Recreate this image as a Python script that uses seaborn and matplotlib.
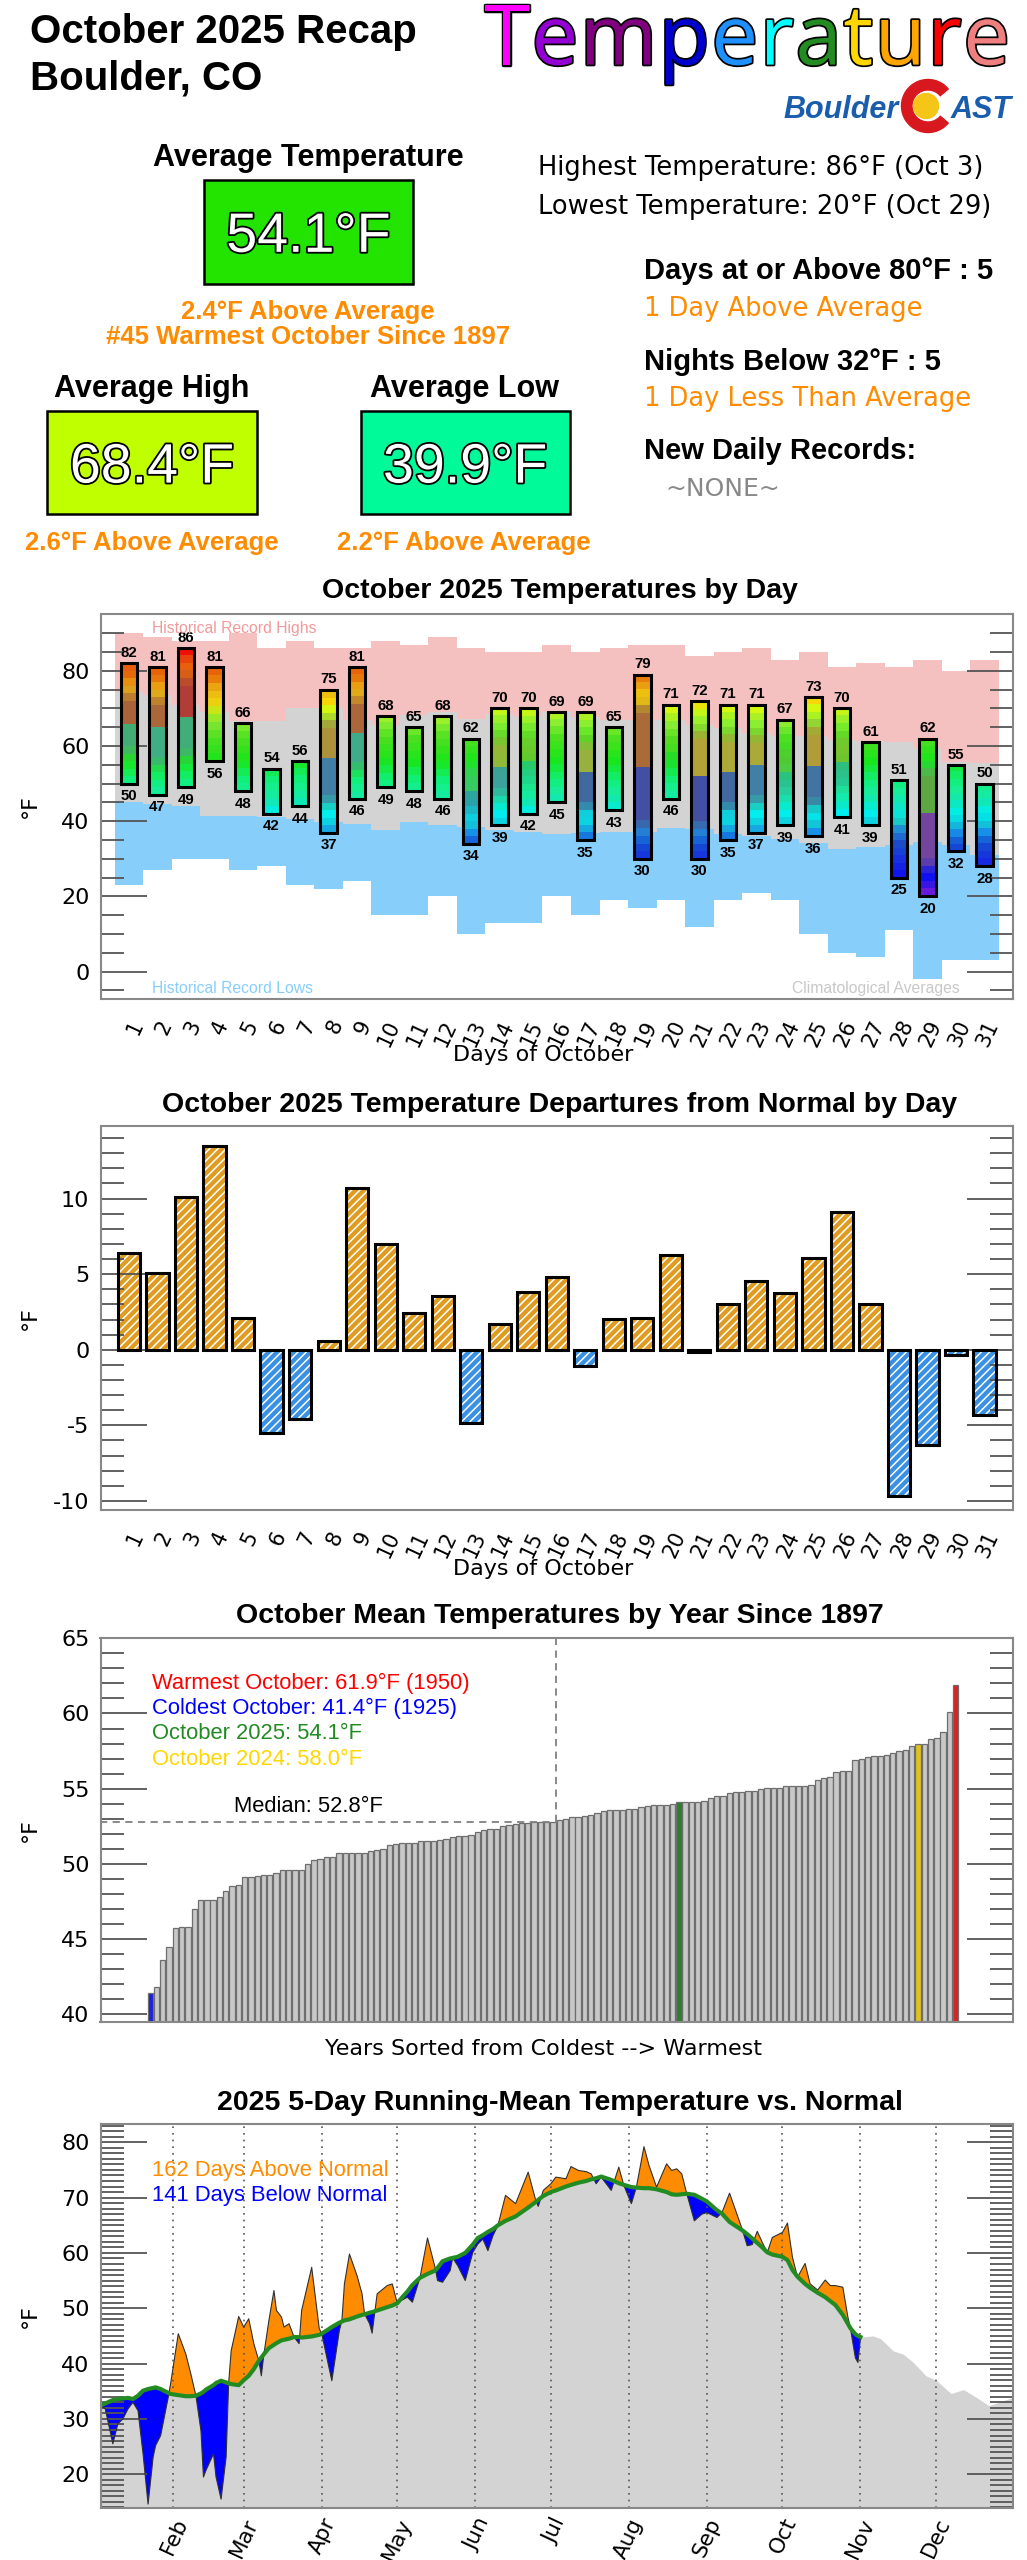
import numpy as np
import pandas as pd
import matplotlib
matplotlib.use("Agg")
import matplotlib.pyplot as plt
import matplotlib.patheffects as pe
from matplotlib.patches import Rectangle, Wedge, Circle
from matplotlib.colors import LinearSegmentedColormap, to_rgb
from matplotlib import font_manager
from matplotlib.ft2font import FT2Font
import seaborn as sns

# ---------------- data ----------------
days = list(range(1, 32))
daily_high = [82, 81, 86, 81, 66, 54, 56, 75, 81, 68, 65, 68, 62, 70, 70, 69,
              69, 65, 79, 71, 72, 71, 71, 67, 73, 70, 61, 51, 62, 55, 50]
daily_low = [50, 47, 49, 56, 48, 42, 44, 37, 46, 49, 48, 46, 34, 39, 42, 45,
             35, 43, 30, 46, 30, 35, 37, 39, 36, 41, 39, 25, 20, 32, 28]
record_high = [90, 89, 88, 88, 90, 86, 88, 86, 86, 88, 87, 89, 86, 85, 85, 87,
               85, 86, 87, 87, 84, 85, 86, 83, 85, 81, 82, 81, 83, 80, 83]
normal_high = [74.4, 73.6, 71.0, 69.1, 66.6, 66.6, 70.1, 70.0, 67.0, 65.6, 68.2,
               69.0, 67.2, 68.5, 67.8, 69.0, 67.8, 67.0, 67.0, 67.0, 65.6, 64.7,
               63.4, 62.7, 62.7, 61.6, 61.3, 61.0, 59.4, 55.8, 55.4]
normal_low = [45.2, 44.5, 44.1, 41.4, 41.4, 41.2, 40.6, 39.8, 39.2, 37.6, 39.8,
              39.0, 38.5, 37.6, 37.2, 36.7, 37.0, 37.2, 37.2, 38.2, 37.9, 36.7,
              36.1, 35.4, 34.3, 32.7, 33.2, 33.6, 34.5, 33.6, 31.1]
record_low = [23, 27, 30, 30, 27, 28, 23, 22, 24, 15, 15, 20, 10, 13, 13, 20,
              15, 19, 17, 19, 12, 19, 21, 19, 10, 5, 4, 11, -2, 3, 3]

departures = [6.4, 5.1, 10.1, 13.5, 2.1, -5.5, -4.6, 0.55, 10.7, 7.0, 2.4, 3.55,
              -4.85, 1.7, 3.85, 4.8, -1.05, 2.05, 2.1, 6.25, -0.15, 3.0, 4.55,
              3.75, 6.1, 9.1, 3.0, -9.65, -6.3, -0.35, -4.3]

# October means 1897-2025, sorted coldest -> warmest
october_means_sorted = [
    41.4, 41.8, 43.6, 44.5, 45.75, 45.8, 45.8, 47.0, 47.6, 47.6,
    47.6, 47.8, 48.2, 48.5, 48.6, 49.1, 49.1, 49.2, 49.25, 49.25,
    49.4, 49.6, 49.6, 49.6, 49.6, 50.0, 50.25, 50.35, 50.45, 50.45,
    50.7, 50.7, 50.7, 50.7, 50.7, 50.85, 50.95, 51.0, 51.25, 51.35,
    51.4, 51.4, 51.4, 51.5, 51.55, 51.55, 51.6, 51.65, 51.8, 51.85,
    51.85, 51.9, 52.15, 52.25, 52.3, 52.3, 52.5, 52.6, 52.65, 52.7,
    52.7, 52.75, 52.75, 52.8, 52.8, 52.9, 53.0, 53.1, 53.1, 53.15,
    53.25, 53.35, 53.5, 53.55, 53.55, 53.6, 53.65, 53.65, 53.75, 53.85,
    53.9, 53.9, 53.9, 54.0, 54.1, 54.1, 54.1, 54.1, 54.15, 54.35,
    54.5, 54.5, 54.7, 54.75, 54.8, 54.85, 54.85, 55.0, 55.05, 55.05,
    55.05, 55.15, 55.15, 55.15, 55.15, 55.25, 55.55, 55.7, 55.75, 56.1,
    56.15, 56.2, 56.9, 56.95, 57.1, 57.2, 57.2, 57.25, 57.35, 57.5,
    57.6, 57.85, 58.0, 58.0, 58.3, 58.4, 58.75, 60.1, 61.9]
rank_2025 = 84
rank_2024 = 122

# 5-day running mean (day of year, 0 = Jan 1)
run_days = [2, 4, 7, 9, 11, 13, 15, 17, 19, 21, 23, 24, 26, 29, 30, 33, 36, 38, 40,
            42, 43, 44, 47, 48, 50, 52, 53, 54, 57, 59, 61, 63, 65, 66, 67, 69, 71,
            72, 74, 75, 77, 79, 81, 82, 86, 89, 90, 92, 94, 97, 98, 99, 101, 104,
            106, 107, 109, 110, 112, 116, 118, 120, 122, 124, 126, 129, 132, 135,
            136, 138, 141, 142, 144, 147, 150, 152, 154, 156, 158, 160, 163, 167,
            172, 175, 176, 178, 181, 183, 187, 189, 192, 195, 197, 199, 201, 205,
            208, 210, 213, 215, 218, 220, 223, 227, 229, 231, 233, 235, 238, 241,
            243, 247, 249, 252, 257, 259, 261, 263, 265, 267, 269, 273, 275, 277,
            279, 282, 284, 287, 290, 292, 294, 297, 299, 300, 302, 303, 304]
run_actual = [32.4, 31.8, 25.5, 29.1, 30.0, 31.8, 33.0, 31.5, 23.7, 14.6, 23.1, 25.2,
              27.0, 33.9, 36.5, 45.4, 41.7, 38.1, 34.2, 27.9, 19.5, 20.7, 23.7, 19.5,
              15.5, 23.1, 36.4, 42.3, 48.5, 46.6, 48.1, 43.6, 40.5, 37.8, 41.7, 47.8,
              53.2, 49.6, 48.4, 46.6, 47.2, 44.8, 43.6, 49.6, 57.4, 46.3, 45.4, 41.1,
              36.9, 46.0, 47.8, 54.4, 59.8, 55.9, 52.6, 49.0, 47.2, 45.5, 52.6, 54.1,
              54.4, 50.9, 51.5, 52.0, 51.1, 55.5, 62.7, 57.4, 55.0, 54.7, 56.8, 59.1,
              57.7, 55.0, 60.1, 61.6, 62.5, 60.4, 63.1, 65.0, 70.4, 68.9, 74.6, 69.5,
              68.4, 71.3, 72.5, 73.7, 73.4, 75.6, 74.9, 74.7, 74.3, 72.5, 73.7, 71.3,
              75.5, 72.2, 68.9, 71.9, 79.2, 75.8, 71.9, 76.1, 74.9, 75.2, 74.3, 70.7,
              65.8, 67.0, 67.3, 66.4, 67.3, 70.8, 64.3, 61.3, 61.5, 63.9, 61.9, 60.1,
              62.8, 63.7, 65.4, 59.2, 55.6, 58.1, 54.4, 53.3, 55.1, 54.1, 54.1, 53.8,
              48.4, 46.4, 41.0, 40.2, 44.5]
run_normal = [32.4, 32.8, 33.4, 33.6, 33.7, 33.8, 33.6, 34.2, 35.1, 35.4, 35.6, 35.7,
              35.4, 34.7, 34.5, 34.3, 34.1, 34.1, 34.2, 34.6, 34.9, 35.3, 36.1, 36.5,
              36.9, 36.6, 36.4, 36.3, 36.1, 37.0, 37.8, 39.0, 40.5, 41.1, 41.7, 42.8,
              43.4, 43.7, 44.2, 44.3, 44.5, 44.8, 44.8, 44.7, 44.9, 45.2, 45.4, 46.0,
              46.6, 47.4, 47.6, 47.8, 48.0, 48.5, 48.8, 48.9, 49.2, 49.3, 49.6, 50.2,
              50.5, 50.9, 52.0, 53.0, 54.2, 55.5, 56.2, 56.8, 57.3, 58.5, 59.0, 59.1,
              59.3, 60.0, 61.5, 62.7, 63.2, 63.8, 64.3, 65.0, 65.8, 66.6, 68.2, 69.2,
              69.6, 70.3, 71.0, 71.3, 72.0, 72.3, 72.7, 73.0, 73.3, 73.5, 73.8, 73.2,
              72.6, 72.3, 71.9, 71.8, 71.7, 71.7, 71.5, 71.0, 70.6, 70.5, 70.6, 70.7,
              70.5, 69.8, 69.3, 67.7, 67.1, 65.6, 64.1, 63.4, 62.6, 61.8, 61.0, 60.1,
              59.7, 59.3, 58.7, 56.9, 55.7, 54.4, 53.7, 52.8, 52.0, 51.3, 50.6, 48.8,
              47.2, 46.4, 45.3, 45.0, 44.8]
rest_days = [309, 312, 317, 321, 325, 330, 334, 340, 345, 350, 355, 359, 364.5]
rest_normal = [45.0, 44.5, 42.3, 41.7, 40.2, 37.8, 37.0, 34.6, 35.3, 33.9, 32.4, 33.0, 33.9]

month_starts = [31, 59, 90, 120, 151, 181, 212, 243, 273, 304, 334]
month_names = ["Feb", "Mar", "Apr", "May", "Jun", "Jul", "Aug", "Sep", "Oct", "Nov", "Dec"]

# colour anchors for the daily bars (temperature -> colour)
temp_colors = [(15, "#8A10D0"), (20, "#7A1CD8"), (25, "#1010F0"), (30, "#1830E0"),
               (34, "#1450D0"), (37, "#1890E8"), (39, "#14C4D8"), (42, "#00F0F0"),
               (45, "#10E8B8"), (48, "#18EE98"), (51, "#10F078"), (56, "#1AE61A"),
               (62, "#4CE020"), (66, "#88EE33"), (70, "#D4F810"), (72, "#F8D808"),
               (75, "#ECB514"), (79, "#E86A0A"), (82, "#E85A10"), (85, "#F01008"),
               (90, "#FF0000")]

# ---------------- figure ----------------
W, H = 1027, 2560
plt.rcParams["axes.unicode_minus"] = False
plt.rcParams["hatch.linewidth"] = 1.1
plt.rcParams["font.family"] = ["DejaVu Sans"]
fig = plt.figure(figsize=(W / 100, H / 100), dpi=100)

BOLD = dict(family="Liberation Sans", weight="bold")
HELV = dict(family="Liberation Sans")


def px_text(x, y, s, **kw):
    return fig.text(x / W, 1 - y / H, s, **kw)


def panel(top, bottom):
    ax = fig.add_axes([100.5 / W, 1 - bottom / H, 912.5 / W, (bottom - top) / H])
    for s in ax.spines.values():
        s.set_color("#888888")
        s.set_linewidth(1.5)
    return ax


def y_ticks(ax, majors, minors):
    ax.set_yticks(majors)
    ax.set_yticks(minors, minor=True)
    ax.tick_params(axis="y", which="both", direction="in", left=True, right=True,
                   color="#555555", width=1.3)
    ax.tick_params(axis="y", which="major", length=33, labelsize=16, pad=8)
    ax.tick_params(axis="y", which="minor", length=16.5)


# ---- header ----
px_text(29.6, 43, "October 2025 Recap", fontsize=29, va="baseline", **BOLD)
px_text(29.6, 90, "Boulder, CO", fontsize=29, va="baseline", **BOLD)

word = "Temperature"
word_colors = ["#FF00FF", "#9400D3", "#800080", "#0000CD", "#1E90FF", "#00FFFF",
               "#228B22", "#FFD700", "#FFA500", "#FF0000", "#F08080"]
ft = FT2Font(font_manager.findfont(font_manager.FontProperties(family="Open Sans")))
ft.set_size(60, 100)
adv = [ft.load_char(ord(c)).linearHoriAdvance / 65536 for c in word]
gap = (526 - sum(adv)) / (len(word) - 1)
x = 484
for ch, col, a in zip(word, word_colors, adv):
    px_text(x, 64.6, ch, fontsize=60, family="Open Sans", color=col, va="baseline",
            path_effects=[pe.withStroke(linewidth=2.5, foreground="black")])
    x += a + gap

px_text(783, 118, "Boulder", fontsize=22, color="#1A5DAD", va="baseline",
        style="italic", **BOLD)
fig.add_artist(Wedge((9.28, (H - 106) / 100), 0.265, 40, 320, width=0.105,
                     color="#D7191F", transform=fig.dpi_scale_trans))
fig.add_artist(Circle((9.26, (H - 106) / 100), 0.125, color="#F5C518",
                      transform=fig.dpi_scale_trans))
px_text(951, 118, "AST", fontsize=22, color="#1A5DAD", va="baseline",
        style="italic", **BOLD)


def value_box(x0, y0, x1, y1, color, label):
    fig.add_artist(Rectangle((x0 / W, 1 - y1 / H), (x1 - x0) / W, (y1 - y0) / H,
                             transform=fig.transFigure, facecolor=color,
                             edgecolor="black", lw=1.8))
    px_text((x0 + x1) / 2, y0 + 0.695 * (y1 - y0), label, fontsize=40, color="white",
            ha="center", va="baseline", family="Liberation Sans",
            path_effects=[pe.withStroke(linewidth=2.6, foreground="black")])


orange = "#FF8C00"
px_text(308, 165.8, "Average Temperature", fontsize=22, ha="center", va="baseline", **BOLD)
value_box(204, 179.5, 413, 283.6, "#22E400", "54.1°F")
px_text(308, 318.7, "2.4°F Above Average", fontsize=18.5, color=orange, ha="center",
        va="baseline", **BOLD)
px_text(308, 343.5, "#45 Warmest October Since 1897", fontsize=18.5, color=orange,
        ha="center", va="baseline", **BOLD)

px_text(152, 396.6, "Average High", fontsize=22, ha="center", va="baseline", **BOLD)
value_box(47.4, 411, 256.7, 514, "#BFFF00", "68.4°F")
px_text(152, 550, "2.6°F Above Average", fontsize=18.5, color=orange, ha="center",
        va="baseline", **BOLD)
px_text(465, 396.6, "Average Low", fontsize=22, ha="center", va="baseline", **BOLD)
value_box(360.8, 411, 569.5, 514, "#00FA9A", "39.9°F")
px_text(464, 550, "2.2°F Above Average", fontsize=18.5, color=orange, ha="center",
        va="baseline", **BOLD)

px_text(538.5, 175.2, "Highest Temperature: 86°F (Oct 3)", fontsize=18.5, va="baseline")
px_text(538.5, 214, "Lowest Temperature: 20°F (Oct 29)", fontsize=18.5, va="baseline")
px_text(644, 279.3, "Days at or Above 80°F : 5", fontsize=21, va="baseline", **BOLD)
px_text(644, 315.9, "1 Day Above Average", fontsize=18.5, color=orange, va="baseline")
px_text(644, 369.7, "Nights Below 32°F : 5", fontsize=21, va="baseline", **BOLD)
px_text(644, 406.3, "1 Day Less Than Average", fontsize=18.5, color=orange, va="baseline")
px_text(644, 459.4, "New Daily Records:", fontsize=21, va="baseline", **BOLD)
px_text(665, 496, "~NONE~", fontsize=18, color="#888888", va="baseline")

# ---- panel 1: daily temperatures ----
ax1 = panel(613.7, 998.7)
edges = np.arange(0.5, 32, 1.0)
ax1.stairs(record_high, edges, baseline=normal_high, fill=True, color="#F5C0C0", lw=0)
ax1.stairs(normal_high, edges, baseline=normal_low, fill=True, color="#D3D3D3", lw=0)
ax1.stairs(normal_low, edges, baseline=record_low, fill=True, color="#87CEFA", lw=0)

temp_cmap = LinearSegmentedColormap.from_list(
    "temps", [((t - 15) / 75, c) for t, c in temp_colors])
mute = np.array(to_rgb("#6E6E66"))


def tcol(t):
    return np.array(temp_cmap((t - 15) / 75)[:3])


def bar_color(t, lo, hi):
    # the ends keep their own colour; the middle of long bars is a dulled
    # version of the nearer end's colour
    base = tcol(t)
    end = tcol(hi) if t > (lo + hi) / 2 else tcol(lo)
    dull = 0.5 * end + 0.5 * mute
    dist = min(t - lo, hi - t)
    w = np.clip((dist - 6) / 4, 0, 1) * np.clip((hi - lo - 24) / 8, 0, 1)
    return base * (1 - w) + dull * w


bw = 0.58
for d, lo, hi in zip(days, daily_low, daily_high):
    n = max(1, int(round((hi - lo) / 2)))
    t = lo + (np.arange(n) + 0.5) * (hi - lo) / n
    rgb = np.array([bar_color(v, lo, hi) for v in t])[:, None, :]
    ax1.imshow(rgb, extent=(d - bw / 2, d + bw / 2, lo, hi), origin="lower",
               aspect="auto", interpolation="nearest", zorder=3)
    ax1.add_patch(Rectangle((d - bw / 2, lo), bw, hi - lo, fill=False, ec="black",
                            lw=2.2, zorder=4))
    ax1.annotate(str(hi), (d, hi), xytext=(0, 4.5), textcoords="offset points",
                 ha="center", va="baseline", fontsize=10.8, zorder=5, **BOLD)
    ax1.annotate(str(lo), (d, lo), xytext=(0, -4), textcoords="offset points",
                 ha="center", va="top", fontsize=10.8, zorder=5, **BOLD)

ax1.set_xlim(0, 32)
ax1.set_ylim(-7.2, 95.2)
y_ticks(ax1, [0, 20, 40, 60, 80], np.arange(-5, 96, 5))
ax1.set_xticks(days)
ax1.set_xticklabels(days, rotation=65, ha="right", va="top", rotation_mode="anchor",
                    fontsize=15)
ax1.tick_params(axis="x", length=0, pad=13)

px_text(152.3, 632.7, "Historical Record Highs", fontsize=11.3, color="#F29A9A",
        va="baseline", **HELV)
px_text(152.3, 993, "Historical Record Lows", fontsize=11.3, color="#87CEFA",
        va="baseline", **HELV)
px_text(960, 993, "Climatological Averages", fontsize=11.3, color="#C8C8C8",
        ha="right", va="baseline", **HELV)

# ---- panel 2: departures ----
ax2 = panel(1126, 1510)
dep_df = pd.DataFrame({"day": days, "departure": departures})
dep_df["side"] = np.where(dep_df["departure"] >= 0, "warm", "cold")
sns.barplot(data=dep_df, x="day", y="departure", hue="side",
            palette={"warm": "#FFA500", "cold": "#1E90FF"}, native_scale=True,
            dodge=False, legend=False, errorbar=None, width=0.78, ax=ax2)
for bar in list(ax2.patches):
    bar.set_hatch("////")
    bar.set_edgecolor("white")
    bar.set_linewidth(0)
    ax2.add_patch(Rectangle(bar.get_xy(), bar.get_width(), bar.get_height(),
                            fill=False, ec="black", lw=2.2, zorder=3))
ax2.set_xlabel("")
ax2.set_ylabel("")
ax2.set_xlim(0, 32)
ax2.set_ylim(-10.6, 14.8)
y_ticks(ax2, [-10, -5, 0, 5, 10], np.arange(-10, 15, 1))
ax2.set_xticks(days)
ax2.set_xticklabels(days, rotation=65, ha="right", va="top", rotation_mode="anchor",
                    fontsize=15)
ax2.tick_params(axis="x", length=0, pad=13)

# ---- panel 3: October means by year ----
ax3 = panel(1638.3, 2021.7)
yr_df = pd.DataFrame({"rank": np.arange(len(october_means_sorted)),
                      "mean": october_means_sorted})
yr_df["kind"] = "other"
yr_df.loc[yr_df["mean"].idxmin(), "kind"] = "coldest"
yr_df.loc[yr_df["mean"].idxmax(), "kind"] = "warmest"
yr_df.loc[rank_2025, "kind"] = "y2025"
yr_df.loc[rank_2024, "kind"] = "y2024"
sns.barplot(data=yr_df, x="rank", y="mean", hue="kind",
            palette={"other": "#C8C8C8", "coldest": "#0000FF", "warmest": "#FF0000",
                     "y2025": "#228B22", "y2024": "#FFD700"},
            native_scale=True, dodge=False, legend=False, errorbar=None, width=0.85,
            edgecolor="#6E6E6E", linewidth=0.9, ax=ax3)
ax3.set_xlabel("")
ax3.set_ylabel("")
median = float(np.median(october_means_sorted))
mid = (len(october_means_sorted) - 1) / 2 + 0.5
ax3.plot([-7.9, mid], [median, median], ls=(0, (4, 3)), color="#808080", lw=1.3)
ax3.plot([mid, mid], [median, 65], ls=(0, (4, 3)), color="#808080", lw=1.3)
ax3.set_xlim(-7.9, 137.1)
ax3.set_ylim(39.5, 65)
y_ticks(ax3, [40, 45, 50, 55, 60, 65], np.arange(40, 66, 1))
ax3.set_xticks([])

px_text(151.7, 1689.3, "Warmest October: 61.9°F (1950)", fontsize=15.8, color="#FF0000",
        va="baseline", **HELV)
px_text(151.7, 1714, "Coldest October: 41.4°F (1925)", fontsize=15.8, color="#0000FF",
        va="baseline", **HELV)
px_text(151.7, 1739.3, "October 2025: 54.1°F", fontsize=15.8, color="#228B22",
        va="baseline", **HELV)
px_text(151.7, 1765, "October 2024: 58.0°F", fontsize=15.8, color="#FFD700",
        va="baseline", **HELV)
px_text(234, 1811.7, f"Median: {median:.1f}°F", fontsize=15.8, va="baseline", **HELV)

# ---- panel 4: running mean vs normal ----
ax4 = panel(2124, 2508)
ax4.fill_between(run_days + rest_days, 0, run_normal + rest_normal, color="#D3D3D3", lw=0)
act = np.array(run_actual)
nor = np.array(run_normal)
ax4.fill_between(run_days, nor, act, where=act >= nor, interpolate=True,
                 color="#FF8C00", lw=0)
ax4.fill_between(run_days, nor, act, where=act <= nor, interpolate=True,
                 color="#0000FF", lw=0)
ax4.plot(run_days, act, color="#303030", lw=0.8)
for m in month_starts:
    ax4.axvline(m, color="#555555", ls=(0, (1, 3)), lw=1.2, zorder=1.5)
sns.lineplot(x=run_days, y=run_normal, color="#228B22", linewidth=3, ax=ax4)
ax4.set_xlim(2.1, 364.6)
ax4.set_ylim(13.9, 83.3)
y_ticks(ax4, [20, 30, 40, 50, 60, 70, 80], np.arange(14, 84, 1))
ax4.set_xticks(month_starts)
ax4.set_xticklabels(month_names, rotation=65, ha="right", va="top",
                    rotation_mode="anchor", fontsize=15.5)
ax4.tick_params(axis="x", length=0, pad=5)
px_text(152.3, 2175.7, "162 Days Above Normal", fontsize=15.8, color="#FF8C00",
        va="baseline", **HELV)
px_text(152.3, 2201.3, "141 Days Below Normal", fontsize=15.8, color="#0000FF",
        va="baseline", **HELV)

# ---- titles and axis labels ----
titles = [(598.3, "October 2025 Temperatures by Day"),
          (1111.7, "October 2025 Temperature Departures from Normal by Day"),
          (1623.3, "October Mean Temperatures by Year Since 1897"),
          (2110, "2025 5-Day Running-Mean Temperature vs. Normal")]
for y, s in titles:
    px_text(559.5, y, s, fontsize=20.5, ha="center", va="baseline", **BOLD)

px_text(543.5, 1061, "Days of October", fontsize=16, ha="center", va="baseline")
px_text(543.5, 1575, "Days of October", fontsize=16, ha="center", va="baseline")
px_text(543.5, 2055, "Years Sorted from Coldest --> Warmest", fontsize=16,
        ha="center", va="baseline")
for yc in [806, 1318, 1830, 2316]:
    px_text(30, yc, "°F", fontsize=16, rotation=90, ha="center", va="center")

fig.savefig("out.png", dpi=100)
